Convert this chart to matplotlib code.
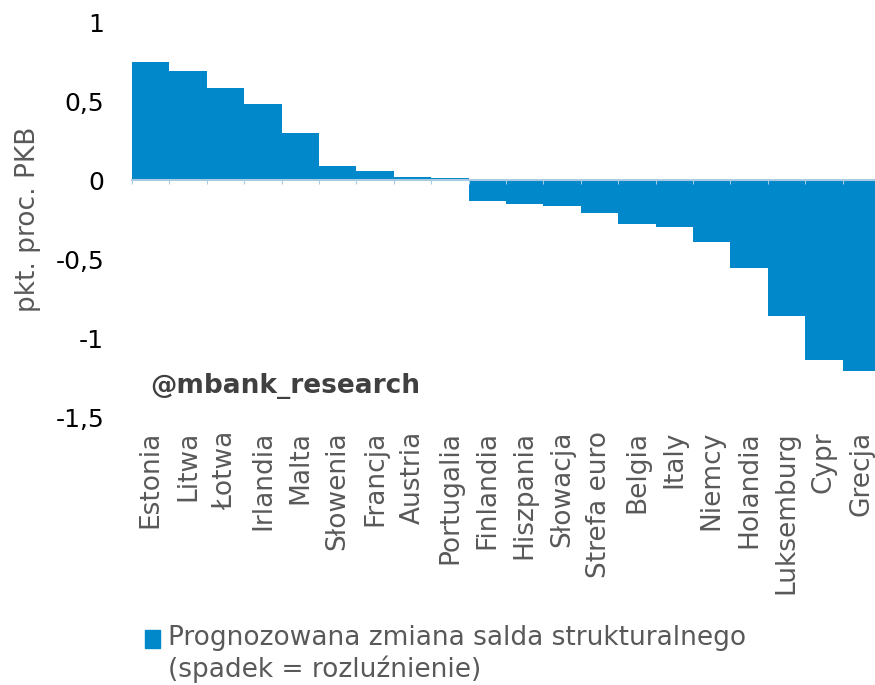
import numpy as np
import matplotlib
matplotlib.use("Agg")
import matplotlib.pyplot as plt
import matplotlib.ticker as mticker

kraje = ["Estonia", "Litwa", "Łotwa", "Irlandia", "Malta", "Słowenia", "Francja",
         "Austria", "Portugalia", "Finlandia", "Hiszpania", "Słowacja", "Strefa euro",
         "Belgia", "Italy", "Niemcy", "Holandia", "Luksemburg", "Cypr", "Grecja"]
zmiana = [0.75, 0.69, 0.585, 0.48, 0.30, 0.088, 0.056, 0.02, 0.013, -0.135,
          -0.15, -0.165, -0.21, -0.28, -0.30, -0.39, -0.56, -0.86, -1.14, -1.21]
y_ticks = [-1.5, -1.0, -0.5, 0.0, 0.5, 1.0]
y_labels = ["-1,5", "-1", "-0,5", "0", "0,5", "1"]

blue = "#0088ca"
gray = "#595959"

plt.rcParams["font.family"] = "DejaVu Sans"

fig = plt.figure(figsize=(8.75, 6.85), dpi=100)
ax = fig.add_axes([132/875, 1-417/685, 748/875, 395/685])

x = np.arange(len(kraje))
ax.bar(x, zmiana, width=1.0, color=blue, edgecolor="none", zorder=2)

ax.set_xlim(-0.5, len(kraje) - 0.5)
ax.set_ylim(-1.5, 1.0)
ax.set_yticks(y_ticks)
ax.set_yticklabels(y_labels, fontsize=18, color="black")
ax.tick_params(axis="y", length=0, pad=20)

ax.set_xticks(x)
ax.set_xticklabels(kraje, rotation=90, fontsize=19, color=gray)
ax.tick_params(axis="x", length=0, pad=10)

for s in ax.spines.values():
    s.set_visible(False)

# oś zerowa z kreskami między słupkami
sec = ax.secondary_xaxis(1.5 / 2.5)
sec.set_xticks(np.arange(len(kraje) + 1) - 0.5)
sec.xaxis.set_ticks_position("bottom")
sec.xaxis.set_major_formatter(mticker.NullFormatter())
sec.tick_params(axis="x", length=3, color="#a9cbe2", direction="out")
for s in sec.spines.values():
    s.set_color("#a9cbe2")
    s.set_linewidth(1.5)
sec.set_zorder(3)

ax.set_ylabel("pkt. proc. PKB", fontsize=19, color=gray)
ax.yaxis.set_label_coords(-0.122, 0.5)

fig.text(150/875, 1-386/685, "@mbank_research", fontsize=19, fontweight="bold",
         color="#404040", va="center", ha="left")

# legenda
fig.patches.append(plt.Rectangle((145/875, 1-648/685), 15/875, 18/685,
                                 transform=fig.transFigure, color=blue))
fig.text(168/875, 1-654/685, "Prognozowana zmiana salda strukturalnego\n(spadek = rozluźnienie)",
         fontsize=19, color=gray, va="center", ha="left", linespacing=1.2)

plt.savefig("out.png", dpi=100)
